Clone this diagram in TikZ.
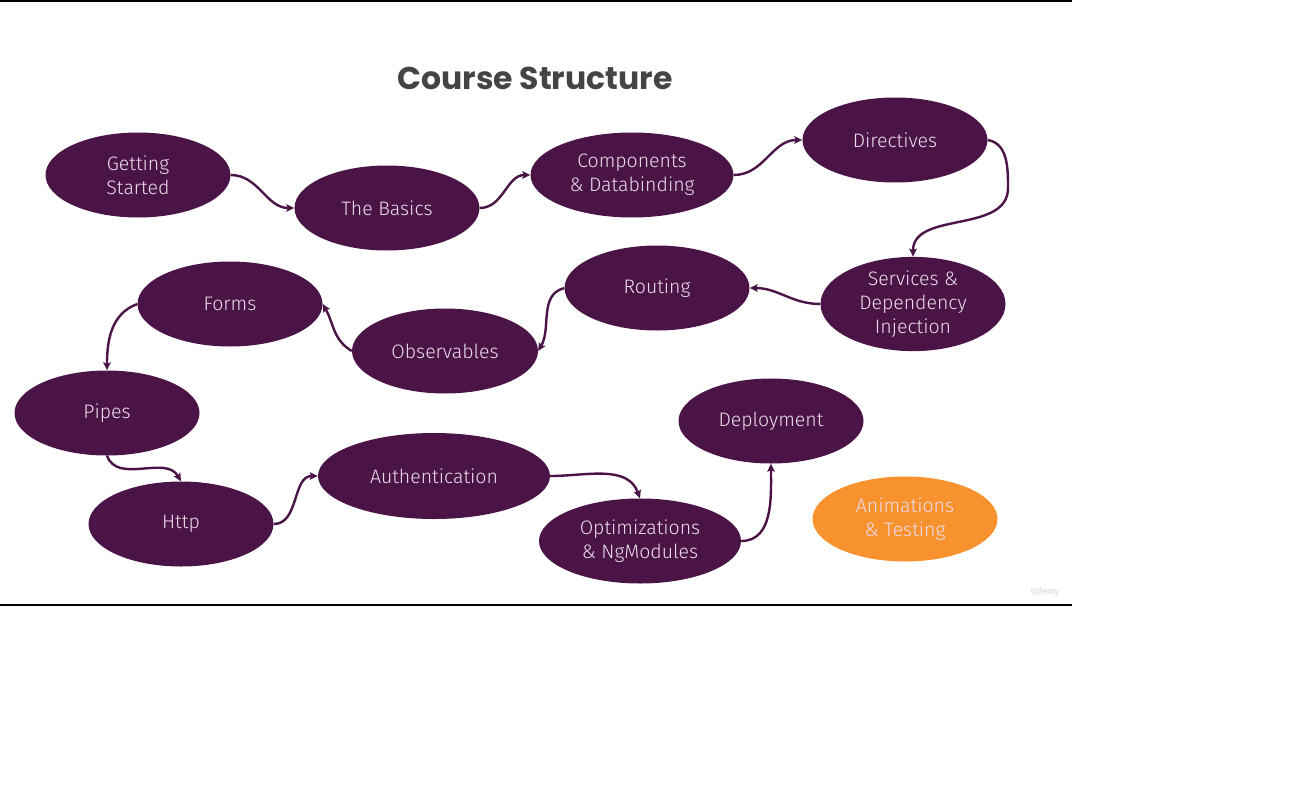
\documentclass[tikz,border=0pt]{standalone}
\usepackage{fontspec}
\setmainfont{Fira Sans}
\newfontfamily\nodefont{Fira Sans}[UprightFont=* Light]
\newfontfamily\titlefont{Poppins}
\usetikzlibrary{shapes.geometric,arrows.meta}
\definecolor{plum}{HTML}{4A1446}
\definecolor{plumtext}{HTML}{EBDDEA}
\definecolor{orng}{HTML}{F7922F}
\definecolor{titlegray}{HTML}{444444}
\tikzset{
  topic/.style={ellipse, fill=plum, draw=none, minimum width=185pt, minimum height=85pt,
    inner sep=0pt, align=center, text=plumtext, font=\nodefont\fontsize{19.5}{24}\selectfont},
  conn/.style={draw=plum, line width=2.4pt, -{Stealth[length=8pt,width=7.5pt,inset=1.5pt]}},
}
\begin{document}
\begin{tikzpicture}[x=1pt,y=-1pt]
\useasboundingbox (0,0) rectangle (1308,808);
\fill[white] (0,0) rectangle (1308,808);
\draw[black, line width=2pt] (0,1) -- (1072,1);
\draw[black, line width=2pt] (0,605) -- (1072,605);
\node[font=\titlefont\bfseries\fontsize{31.5}{36}\selectfont, text=titlegray] (title) at (535,78) {Course Structure};
\node[text=gray!22, font=\bfseries\fontsize{9}{10}\selectfont] (logo) at (1045,592) {Udemy};

\node[topic] (gs) at (138,175) {Getting\\Started};
\node[topic] (tb) at (387,208) {The Basics};
\node[topic, minimum width=203pt] (cd) at (632,175) {Components\\\& Databinding};
\node[topic] (dir) at (895,140) {Directives};
\node[topic] (svc) at (913,304) {Services \&\\Dependency\\Injection};
\node[topic] (rt) at (657,288) {Routing};
\node[topic, minimum width=186pt] (obs) at (445,351) {Observables};
\node[topic] (fm) at (230,304) {Forms};
\node[topic] (pp) at (107,413) {Pipes};
\node[topic] (http) at (181,524) {Http};
\node[topic, minimum width=232pt, minimum height=86pt] (auth) at (434,476) {Authentication};
\node[topic, minimum width=202pt] (opt) at (640,541) {Optimizations\\\& NgModules};
\node[topic] (dep) at (771,421) {Deployment};
\node[topic, fill=orng] (anim) at (905,519) {Animations\\\& Testing};

\coordinate (bend) at (1008,188);

\draw[conn] (gs.east) to[out=0,in=180] (tb.west);
\draw[conn] (tb.east) to[out=0,in=180] (cd.west);
\draw[conn] (cd.east) to[out=0,in=180] (dir.west);
\draw[conn] (dir.east) to[out=-10,in=90] (bend) to[out=-90,in=90] (svc.north);
\draw[conn] (svc.west) to[out=180,in=0] (rt.east);
\draw[conn] (rt.west) to[out=195,in=60] (obs.east);
\draw[conn] (obs.west) to[out=150,in=-60] (fm.east);
\draw[conn] (fm.west) to[out=200,in=90] (pp.north);
\draw[conn] (pp.south) to[out=-70,in=120] (http.north);
\draw[conn] (http.east) to[out=0,in=180] (auth.west);
\draw[conn] (auth.east) to[out=0,in=110] (opt.north);
\draw[conn] (opt.east) to[out=0,in=-90] (dep.south);
\end{tikzpicture}
\end{document}
